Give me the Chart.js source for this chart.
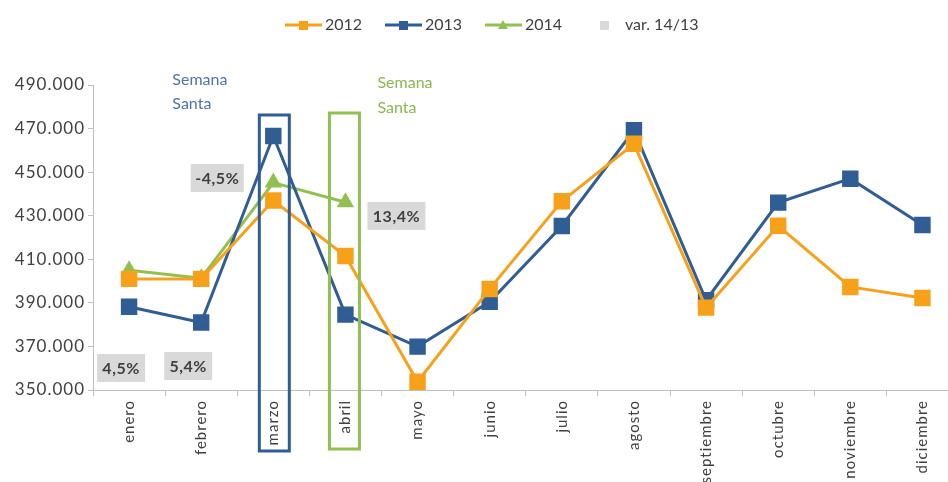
<!DOCTYPE html>
<html>
<head>
<meta charset="utf-8">
<script src="https://cdn.jsdelivr.net/npm/chart.js@4.4.1/dist/chart.umd.min.js"></script>
<style>
    html, body { margin: 0; padding: 0; background: #fff; overflow: hidden; }
    #wrap { width: 948px; height: 482px; overflow: hidden; }
    #box { width: 971px; height: 482px; }
</style>
</head>
<body>
<div id="wrap"><div id="box"><canvas id="chart"></canvas></div></div>
<script>
// Datos
const meses = ['enero', 'febrero', 'marzo', 'abril', 'mayo', 'junio', 'julio', 'agosto', 'septiembre', 'octubre', 'noviembre', 'diciembre'];
const serie2012 = [401000, 401000, 437000, 411500, 353800, 396400, 436600, 463000, 387800, 425400, 397300, 392200];
const serie2013 = [388200, 381000, 466600, 384600, 369900, 390500, 425300, 469200, 391200, 436000, 447000, 425700];
const serie2014 = [405000, 401300, 445200, 436200];
const variacion = ['4,5%', '5,4%', '-4,5%', '13,4%'];

const colores = {
    c2012: '#f7a11a',
    c2013: '#2f5d94',
    c2014: '#92c050',
    gris: '#d9d9d9',
    texto: '#404040'
};
const FONT = 'Lato, "Open Sans", sans-serif';

function formatoMiles(v) {
    return String(v).replace(/\B(?=(\d{3})+(?!\d))/g, '.');
}

// Espaciado de letras para los ejes (el original usa una fuente ancha)
const espaciadoPlugin = {
    id: 'espaciado',
    beforeDraw(chart) { chart.ctx.letterSpacing = '1px'; },
    beforeDatasetsDraw(chart) { chart.ctx.letterSpacing = '0px'; }
};

// Cajas, textos "Semana Santa", etiquetas de variacion y leyenda
const extrasPlugin = {
    id: 'extras',
    afterDatasetsDraw(chart) {
        const ctx = chart.ctx;
        const x = chart.scales.x;
        const y = chart.scales.y;
        ctx.save();

        // Recuadros de Semana Santa
        ctx.lineWidth = 3;
        ctx.strokeStyle = colores.c2013;
        ctx.strokeRect(x.getPixelForValue(2) - 14, 115, 30, 336);
        ctx.strokeStyle = colores.c2014;
        ctx.strokeRect(x.getPixelForValue(3) - 16, 113, 30, 336);

        ctx.font = '16px ' + FONT;
        ctx.textAlign = 'left';
        ctx.textBaseline = 'alphabetic';
        ctx.fillStyle = '#4f74a8';
        ctx.fillText('Semana', x.getPixelForValue(2) - 101, 85);
        ctx.fillText('Santa', x.getPixelForValue(2) - 101, 109);
        ctx.fillStyle = '#8cb650';
        ctx.fillText('Semana', x.getPixelForValue(3) + 32, 88);
        ctx.fillText('Santa', x.getPixelForValue(3) + 32, 113);

        // Etiquetas var. 14/13
        const anclas = [
            { v: 360100, dx: -8, w: 48 },
            { v: 361000, dx: -13, w: 48 },
            { v: 447300, dx: -56, w: 53 },
            { v: 429900, dx: 51, w: 58 }
        ];
        ctx.font = 'bold 16px ' + FONT;
        ctx.letterSpacing = '0.5px';
        ctx.textAlign = 'center';
        ctx.textBaseline = 'middle';
        variacion.forEach((txt, i) => {
            const a = anclas[i];
            const cx = x.getPixelForValue(i) + a.dx;
            const cy = y.getPixelForValue(a.v);
            ctx.fillStyle = colores.gris;
            ctx.fillRect(cx - a.w / 2, cy - 14, a.w, 28);
            ctx.fillStyle = colores.texto;
            ctx.fillText(txt, cx, cy + 1);
        });
        ctx.letterSpacing = '0px';

        // Leyenda
        const items = [
            { t: '2012', c: colores.c2012, m: 'rect', x: 285 },
            { t: '2013', c: colores.c2013, m: 'rect', x: 385 },
            { t: '2014', c: colores.c2014, m: 'tri', x: 485 },
            { t: 'var. 14/13', c: colores.gris, m: 'solo', x: 598 }
        ];
        const ly = 25;
        ctx.font = '16px ' + FONT;
        ctx.textAlign = 'left';
        items.forEach(it => {
            ctx.fillStyle = it.c;
            ctx.strokeStyle = it.c;
            if (it.m === 'solo') {
                ctx.fillRect(it.x + 2, ly - 4, 9, 9);
                ctx.fillStyle = colores.texto;
                ctx.fillText(it.t, it.x + 27, ly);
                return;
            }
            ctx.lineWidth = 3;
            ctx.beginPath();
            ctx.moveTo(it.x, ly);
            ctx.lineTo(it.x + 37, ly);
            ctx.stroke();
            const mx = it.x + 18;
            if (it.m === 'rect') {
                ctx.fillRect(mx - 4, ly - 4, 9, 9);
            } else {
                ctx.beginPath();
                ctx.moveTo(mx, ly - 5);
                ctx.lineTo(mx + 5, ly + 4);
                ctx.lineTo(mx - 5, ly + 4);
                ctx.closePath();
                ctx.fill();
            }
            ctx.fillStyle = colores.texto;
            ctx.fillText(it.t, it.x + 40, ly);
        });

        ctx.restore();
    }
};

function crearGrafico() {
    const ctx = document.getElementById('chart');
    new Chart(ctx, {
        type: 'line',
        data: {
            labels: meses,
            datasets: [
                {
                    label: '2012',
                    data: serie2012,
                    borderColor: colores.c2012,
                    backgroundColor: colores.c2012,
                    borderWidth: 3,
                    pointStyle: 'rect',
                    pointRadius: 9.5,
                    pointHoverRadius: 9.5,
                    tension: 0
                },
                {
                    label: '2013',
                    data: serie2013,
                    borderColor: colores.c2013,
                    backgroundColor: colores.c2013,
                    borderWidth: 3,
                    pointStyle: 'rect',
                    pointRadius: 9.5,
                    pointHoverRadius: 9.5,
                    tension: 0
                },
                {
                    label: '2014',
                    data: serie2014,
                    borderColor: colores.c2014,
                    backgroundColor: colores.c2014,
                    borderWidth: 3,
                    pointStyle: 'triangle',
                    pointRadius: 7,
                    pointHoverRadius: 7,
                    tension: 0
                }
            ]
        },
        options: {
            responsive: true,
            maintainAspectRatio: false,
            animation: false,
            layout: { padding: { top: 85, left: 0, right: 0, bottom: 0 } },
            plugins: {
                legend: { display: false },
                tooltip: { enabled: false }
            },
            scales: {
                x: {
                    offset: true,
                    grid: {
                        offset: true,
                        drawOnChartArea: false,
                        drawTicks: true,
                        tickLength: 6,
                        color: '#bfbfbf'
                    },
                    border: { color: '#bfbfbf', width: 1 },
                    ticks: {
                        minRotation: 90,
                        maxRotation: 90,
                        autoSkip: false,
                        padding: 4,
                        color: colores.texto,
                        font: { family: FONT, size: 15 }
                    },
                    afterFit: s => { s.height = 92; }
                },
                y: {
                    min: 350000,
                    max: 490000,
                    grid: {
                        drawOnChartArea: false,
                        drawTicks: true,
                        tickLength: 5,
                        color: '#bfbfbf'
                    },
                    border: { color: '#bfbfbf', width: 1 },
                    ticks: {
                        stepSize: 20000,
                        padding: 3,
                        color: colores.texto,
                        font: { family: FONT, size: 17 },
                        callback: v => formatoMiles(v)
                    },
                    afterFit: s => { s.width = 93; }
                }
            }
        },
        plugins: [espaciadoPlugin, extrasPlugin]
    });
}

document.addEventListener('DOMContentLoaded', crearGrafico);
</script>
</body>
</html>
